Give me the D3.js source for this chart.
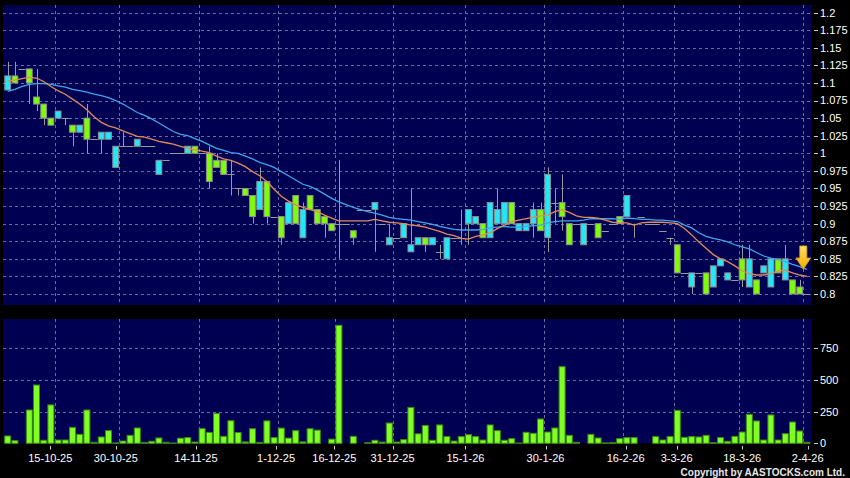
<!DOCTYPE html>
<html><head><meta charset="utf-8">
<script src="https://cdn.jsdelivr.net/npm/d3@7"></script>
<style>
body{margin:0;background:#000}
svg{display:block}
text{font-family:Arial,"Liberation Sans",sans-serif}
</style>
</head><body>
<svg id="chart" width="850" height="478"></svg>
<script>
// ---- data (one entry per trading-day slot) ----
const open  = [1.09,1.11,1.12,1.12,1.08,1.07,1.05,1.05,1.05,1.04, 1.03,1.05,1.02,1.02,1.02,0.98,1.01,1.01,1.01,1.01,
  1.01,0.97,0.99,1.00,1.00,1.00,1.01,1.00,1.00,0.99, 0.99,0.97,0.95,0.95,0.94,0.92,0.96,0.91,0.91,0.90,
  0.94,0.88,0.94,0.92,0.91,0.90,0.90,0.90,0.89,0.92, 0.92,0.92,0.90,0.87,0.88,0.88,0.86,0.87,0.88,0.87,
  0.86,0.85,0.88,0.88,0.90,0.90,0.90,0.88,0.90,0.90, 0.93,0.89,0.89,0.90,0.92,0.88,0.93,0.93,0.90,0.90,
  0.87,0.90,0.90,0.89,0.90,0.91,0.91,0.90,0.91,0.90, 0.90,0.89,0.88,0.87,0.83,0.81,0.83,0.83,0.81,0.84,
  0.82,0.82,0.85,0.81,0.82,0.83,0.81,0.85,0.82,0.82, 0.81,0.80];
const high  = [1.13,1.13,1.12,1.12,1.12,1.07,1.05,1.06,1.05,1.04, 1.04,1.07,1.02,1.03,1.03,1.01,1.03,1.01,1.02,1.01,
  1.01,0.99,0.99,1.00,1.00,1.01,1.01,1.00,1.01,1.00, 0.99,0.99,0.95,0.95,0.94,0.98,0.96,0.91,0.91,0.93,
  0.94,0.93,0.94,0.92,0.91,0.90,0.99,0.90,0.89,0.92, 0.92,0.93,0.90,0.90,0.88,0.90,0.95,0.88,0.88,0.88,
  0.87,0.88,0.88,0.92,0.92,0.91,0.90,0.93,0.95,0.93, 0.93,0.90,0.90,0.93,0.93,0.98,0.95,0.97,0.90,0.90,
  0.90,0.90,0.90,0.89,0.90,0.91,0.94,0.90,0.91,0.90, 0.90,0.89,0.88,0.87,0.83,0.83,0.83,0.83,0.84,0.85,
  0.83,0.82,0.87,0.87,0.82,0.84,0.85,0.85,0.87,0.82, 0.82,0.80];
const low   = [1.09,1.10,1.12,1.07,1.06,1.04,1.04,1.05,1.04,1.01, 1.03,1.00,1.02,1.00,1.02,0.98,1.01,1.01,1.01,1.01,
  1.01,0.97,0.99,1.00,1.00,1.00,1.00,1.00,0.95,0.98, 0.97,0.94,0.94,0.94,0.90,0.92,0.90,0.91,0.87,0.90,
  0.90,0.88,0.92,0.90,0.88,0.89,0.85,0.90,0.87,0.92, 0.92,0.86,0.90,0.87,0.88,0.88,0.86,0.87,0.86,0.87,
  0.85,0.85,0.88,0.87,0.87,0.90,0.88,0.88,0.90,0.90, 0.90,0.89,0.89,0.88,0.89,0.86,0.90,0.89,0.87,0.90,
  0.87,0.90,0.88,0.89,0.90,0.90,0.91,0.88,0.91,0.90, 0.90,0.89,0.87,0.83,0.83,0.80,0.83,0.80,0.81,0.84,
  0.82,0.82,0.81,0.81,0.80,0.83,0.81,0.83,0.82,0.80, 0.80,0.80];
const close = [1.11,1.10,1.12,1.10,1.07,1.05,1.04,1.06,1.05,1.03, 1.04,1.02,1.02,1.03,1.03,1.01,1.01,1.01,1.02,1.01,
  1.01,0.99,0.99,1.00,1.00,1.01,1.00,1.00,0.96,0.98, 0.97,0.97,0.95,0.94,0.91,0.96,0.91,0.91,0.88,0.93,
  0.90,0.92,0.92,0.90,0.90,0.89,0.90,0.90,0.88,0.92, 0.92,0.93,0.90,0.88,0.88,0.90,0.87,0.88,0.87,0.88,
  0.86,0.88,0.88,0.88,0.92,0.91,0.88,0.93,0.92,0.93, 0.90,0.90,0.90,0.92,0.89,0.97,0.93,0.91,0.87,0.90,
  0.90,0.90,0.88,0.89,0.90,0.90,0.94,0.90,0.91,0.90, 0.90,0.89,0.88,0.83,0.83,0.83,0.83,0.80,0.84,0.85,
  0.83,0.82,0.82,0.85,0.80,0.84,0.85,0.83,0.85,0.80, 0.80,0.80];
const volume = [58,21,0,263,460,24,303,26,26,126, 71,263,8,50,100,3,18,63,121,5,
  16,42,8,2,40,45,10,116,86,235, 55,178,85,11,115,7,177,45,120,41,
  100,11,115,104,0,33,932,0,55,0, 4,24,10,160,10,29,283,75,141,24,
  145,53,18,53,68,53,26,145,100,24, 37,2,87,79,192,89,121,605,63,8,
  0,71,42,3,5,37,45,45,0,0, 53,26,53,260,47,53,50,63,5,45,
  16,55,89,229,176,26,224,26,76,168, 97,8];
const maShort = [1.103,1.104,1.106,1.108,1.107,1.102,1.095,1.089,1.084,1.077, 1.070,1.062,1.052,1.044,1.039,1.036,1.032,1.028,1.024,1.023,
  1.020,1.017,1.015,1.013,1.010,1.007,1.005,1.003,1.001,0.996, 0.992,0.990,0.986,0.981,0.974,0.968,0.960,0.949,0.939,0.932,
  0.927,0.923,0.920,0.917,0.912,0.908,0.904,0.904,0.904,0.904, 0.904,0.906,0.904,0.902,0.901,0.900,0.898,0.897,0.895,0.892,
  0.889,0.885,0.883,0.879,0.878,0.882,0.884,0.887,0.893,0.898, 0.903,0.905,0.907,0.909,0.911,0.912,0.917,0.920,0.916,0.911,
  0.909,0.909,0.908,0.905,0.902,0.901,0.901,0.898,0.901,0.902, 0.902,0.902,0.901,0.900,0.893,0.884,0.874,0.865,0.856,0.850,
  0.846,0.840,0.833,0.829,0.827,0.827,0.829,0.833,0.834,0.830, 0.827,0.825];
const maLong = [1.088,1.091,1.095,1.098,1.099,1.099,1.098,1.096,1.094,1.091, 1.089,1.087,1.084,1.082,1.079,1.075,1.070,1.064,1.058,1.054,
  1.049,1.043,1.037,1.031,1.027,1.025,1.021,1.017,1.012,1.007, 1.004,1.001,1.000,0.996,0.992,0.987,0.984,0.980,0.974,0.968,
  0.962,0.956,0.953,0.948,0.942,0.936,0.931,0.927,0.923,0.920, 0.917,0.915,0.912,0.909,0.907,0.906,0.905,0.903,0.901,0.899,
  0.896,0.894,0.892,0.891,0.891,0.891,0.892,0.894,0.895,0.896, 0.895,0.895,0.896,0.897,0.898,0.901,0.903,0.904,0.904,0.904,
  0.905,0.907,0.907,0.907,0.907,0.906,0.908,0.907,0.906,0.906, 0.905,0.905,0.904,0.903,0.898,0.894,0.887,0.882,0.879,0.877,
  0.874,0.870,0.867,0.864,0.859,0.854,0.851,0.849,0.846,0.842, 0.839,0.835];
const dateLabels = ["15-10-25","30-10-25","14-11-25","1-12-25","16-12-25","31-12-25","15-1-26","30-1-26","16-2-26","3-3-26","18-3-26","2-4-26"];
const dateSlots  = [7,16,27,38,46,54,64,75,86,93,102,111];
const priceTicks = [0.8,0.825,0.85,0.875,0.9,0.925,0.95,0.975,1,1.025,1.05,1.075,1.1,1.125,1.15,1.175,1.2];
const volTicks   = [0,250,500,750];
const copyright  = "Copyright by AASTOCKS.com Ltd.";

// ---- layout ----
const n = close.length;
const svg = d3.select("#chart");
const P = {left:3, right:812, top:5, bottom:305};
const V = {top:319, bottom:443.3};

const x  = d3.scaleLinear().domain([-0.5, n - 0.5]).range([4.1, 810.5]);
const xl = d3.scaleLinear().domain([-0.5, n - 0.5]).range([-0.7, 815]);
const yP = d3.scaleLinear().domain([0.8, 1.2]).range([294, 12.6]);
const yV = d3.scaleLinear().domain([0, 750]).range([443.3, 348.3]);

const navy = "#000052", grid = "#6c6ca4";
const upCol = "#22e6fa", dnCol = "#7efc0a", edge = "#8e8e8e";

// panels
svg.append("rect").attr("x",P.left).attr("y",P.top).attr("width",P.right-P.left).attr("height",P.bottom-P.top).attr("fill",navy);
svg.append("rect").attr("x",P.left).attr("y",V.top).attr("width",P.right-P.left).attr("height",V.bottom-V.top).attr("fill",navy);

// grid
const gGrid = svg.append("g").attr("stroke",grid).attr("stroke-dasharray","3,3").attr("stroke-width",1);
priceTicks.forEach(v=>{
  gGrid.append("line").attr("x1",P.left).attr("x2",P.right).attr("y1",Math.round(yP(v))+0.5).attr("y2",Math.round(yP(v))+0.5);
});
volTicks.filter(v=>v>0).forEach(v=>{
  gGrid.append("line").attr("x1",P.left).attr("x2",P.right).attr("y1",Math.round(yV(v))+0.5).attr("y2",Math.round(yV(v))+0.5);
});
dateSlots.forEach(s=>{
  const gx = Math.round(x(s-0.5))+0.5;
  gGrid.append("line").attr("x1",gx).attr("x2",gx).attr("y1",P.top).attr("y2",P.bottom);
  gGrid.append("line").attr("x1",gx).attr("x2",gx).attr("y1",V.top).attr("y2",V.bottom);
});

// candles
const idx = d3.range(n);
const gC = svg.append("g");
gC.selectAll("line.wick").data(idx).join("line").attr("class","wick")
  .attr("x1",i=>Math.round(x(i))+0.5).attr("x2",i=>Math.round(x(i))+0.5)
  .attr("y1",i=>yP(high[i])).attr("y2",i=>yP(low[i]))
  .attr("stroke","#9a9a9a").attr("stroke-width",1);
gC.selectAll("line.doji").data(idx.filter(i=>open[i]===close[i])).join("line").attr("class","doji")
  .attr("x1",i=>x(i)-3.6).attr("x2",i=>x(i)+3.6)
  .attr("y1",i=>Math.round(yP(close[i]))+0.5).attr("y2",i=>Math.round(yP(close[i]))+0.5)
  .attr("stroke","#9a9a9a").attr("stroke-width",1);
gC.selectAll("rect.body").data(idx.filter(i=>open[i]!==close[i])).join("rect").attr("class","body")
  .attr("x",i=>x(i)-2.9).attr("width",5.8)
  .attr("y",i=>yP(Math.max(open[i],close[i])))
  .attr("height",i=>Math.abs(yP(open[i])-yP(close[i])))
  .attr("fill",i=>close[i]>open[i]?upCol:dnCol)
  .attr("stroke",edge).attr("stroke-width",1);

// moving averages
const line = d3.line().x((d,i)=>x(i)).y(d=>yP(d));
svg.append("path").datum(maLong).attr("d",line).attr("fill","none").attr("stroke","#3fa6ea").attr("stroke-width",1.3);
svg.append("path").datum(maShort).attr("d",line).attr("fill","none").attr("stroke","#e08a5a").attr("stroke-width",1.3);

// arrow annotation at the latest session
const defs = svg.append("defs");
const gr = defs.append("linearGradient").attr("id","arrowGrad").attr("x1",0).attr("x2",0).attr("y1",0).attr("y2",1);
gr.append("stop").attr("offset","0").attr("stop-color","#ffe066");
gr.append("stop").attr("offset","1").attr("stop-color","#f2a900");
const ax = x(n-1.5), ay = yP(maLong[n-1]);
svg.append("path")
  .attr("transform",`translate(${ax},${ay})`)
  .attr("d","M0,0 L-7.5,-11.5 L-3.6,-11.5 L-3.6,-23.5 L3.6,-23.5 L3.6,-11.5 L7.5,-11.5 Z")
  .attr("fill","url(#arrowGrad)").attr("stroke","#c98a00").attr("stroke-width",0.8);

// volume bars
svg.append("g").selectAll("rect").data(idx.filter(i=>volume[i]>0)).join("rect")
  .attr("x",i=>x(i)-3).attr("width",6)
  .attr("y",i=>yV(volume[i])).attr("height",i=>yV(0)-yV(volume[i]))
  .attr("fill","#7fff24").attr("stroke","#3c8a12").attr("stroke-width",1);

// right axes
const gA = svg.append("g").attr("fill","#fff").attr("font-size","11px");
priceTicks.forEach(v=>{
  const yy = yP(v);
  svg.append("line").attr("x1",814).attr("x2",818).attr("y1",Math.round(yy)+0.5).attr("y2",Math.round(yy)+0.5).attr("stroke","#cfcfcf");
  gA.append("text").attr("x",820).attr("y",yy).attr("dy","0.36em").text(String(v));
});
volTicks.forEach(v=>{
  const yy = yV(v);
  svg.append("line").attr("x1",814).attr("x2",818).attr("y1",Math.round(yy)+0.5).attr("y2",Math.round(yy)+0.5).attr("stroke","#cfcfcf");
  gA.append("text").attr("x",820).attr("y",yy).attr("dy","0.36em").text(String(v));
});

// date axis
dateSlots.forEach((s,k)=>{
  const tx = xl(s-0.5);
  svg.append("line").attr("x1",Math.round(tx)+0.5).attr("x2",Math.round(tx)+0.5).attr("y1",446).attr("y2",449.5).attr("stroke","#cfcfcf");
  gA.append("text").attr("x",tx).attr("y",462).attr("text-anchor","middle").text(dateLabels[k]);
});

svg.append("text").attr("x",845).attr("y",475.5).attr("text-anchor","end")
  .attr("fill","#e6e6e6").attr("font-size","10px").attr("font-weight","bold").text(copyright);
</script>
</body></html>
